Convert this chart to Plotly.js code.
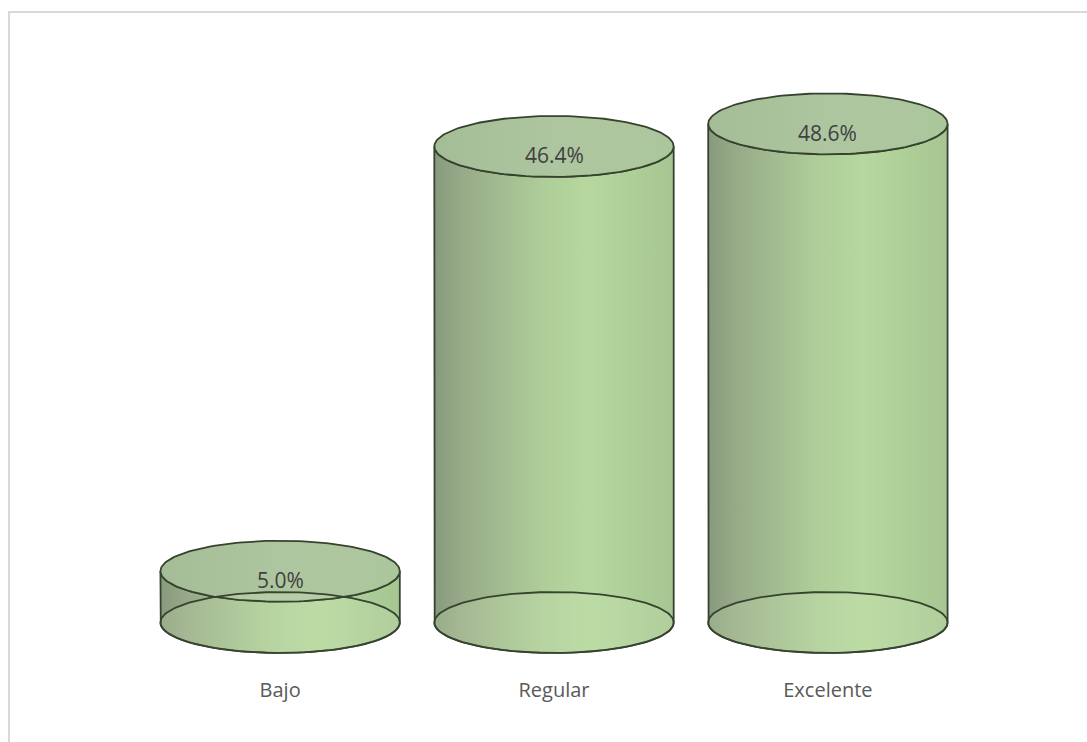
<!DOCTYPE html>
<html>
<head>
<meta charset="utf-8">
<script src="https://cdn.plot.ly/plotly-3.0.1.min.js"></script>
<style>
  html, body { margin: 0; padding: 0; background: #ffffff; }
  #wrap { position: relative; width: 1087px; height: 742px; overflow: hidden; }
  #chart { position: absolute; left: 0; top: 0; width: 1087px; height: 742px; }
  #frame { position: absolute; left: 8px; top: 11px; width: 1200px; height: 800px;
           border-left: 2px solid #d9d9d9; border-top: 2px solid #d9d9d9; pointer-events: none; }
</style>
</head>
<body>
<div id="wrap">
  <div id="chart"></div>
  <div id="frame"></div>
</div>
<script>
// ---- data ----
const categories = ['Bajo', 'Regular', 'Excelente'];
const values = [5.0, 46.4, 48.6];

// ---- styling / geometry (in axis units) ----
const halfWidth = 0.437;   // cylinder half width in x units
const rimRadius = 2.97;    // ellipse vertical radius in y units
const edgeColor = '#36432e';
const edgeWidth = 1.8;

function arc(cx, cy, a, b, t0, t1, n) {
  const xs = [], ys = [];
  for (let k = 0; k <= n; k++) {
    const t = t0 + (t1 - t0) * k / n;
    xs.push(cx + a * Math.cos(t));
    ys.push(cy + b * Math.sin(t));
  }
  return [xs, ys];
}

const traces = [];
categories.forEach((cat, i) => {
  const v = values[i];
  const a = halfWidth, b = rimRadius;
  // body: left side, bottom front arc, right side, top front arc back
  const bx = [], by = [];
  bx.push(i - a); by.push(v);
  bx.push(i - a); by.push(0);
  let [ax, ay] = arc(i, 0, a, b, Math.PI, 2 * Math.PI, 80);
  bx.push(...ax); by.push(...ay);
  bx.push(i + a); by.push(v);
  [ax, ay] = arc(i, v, a, b, 2 * Math.PI, Math.PI, 80);
  bx.push(...ax); by.push(...ay);
  traces.push({
    type: 'scatter', mode: 'lines', x: bx, y: by, fill: 'toself',
    fillgradient: { type: 'horizontal',
      colorscale: [[0, '#889a7d'], [0.12, '#97ab88'], [0.45, '#aecd98'], [0.65, '#b6d89e'], [1, '#a6c592']] },
    line: { color: edgeColor, width: edgeWidth },
    hoverinfo: 'skip', showlegend: false
  });
  // top ellipse fill
  const [tx, ty] = arc(i, v, a, b, 0, 2 * Math.PI, 160);
  traces.push({
    type: 'scatter', mode: 'lines', x: tx, y: ty, fill: 'toself',
    fillgradient: { type: 'horizontal',
      colorscale: [[0, 'rgba(158,184,142,0.93)'], [0.5, 'rgba(168,194,152,0.93)'], [1, 'rgba(166,194,149,0.93)']] },
    line: { width: 0 },
    hoverinfo: 'skip', showlegend: false
  });
  // bottom ellipse (seen through)
  const [ex, ey] = arc(i, 0, a, b, 0, 2 * Math.PI, 160);
  traces.push({
    type: 'scatter', mode: 'lines', x: ex, y: ey, fill: 'toself',
    fillcolor: 'rgba(215,238,190,0.22)',
    line: { color: edgeColor, width: edgeWidth },
    hoverinfo: 'skip', showlegend: false
  });
  // top ellipse outline
  traces.push({
    type: 'scatter', mode: 'lines', x: tx, y: ty,
    line: { color: edgeColor, width: edgeWidth },
    hoverinfo: 'skip', showlegend: false
  });
});

// value labels
const annotations = values.map((v, i) => ({
  x: i, y: v, xref: 'x', yref: 'y', text: v.toFixed(1) + '%',
  showarrow: false, yshift: -9,
  font: { family: 'Open Sans, Noto Sans, sans-serif', size: 21, color: '#404040' }
}));

// pixel layout: y=0 at 622.5px, 10.26 px per unit; x=0 at 280px, 274 px per unit
const H = 742, W = 1087;
const topPx = 60, botPx = 676, y0Px = 622.5, ppuY = 10.26;
const yMin = -(botPx - y0Px) / ppuY, yMax = (y0Px - topPx) / ppuY;
const leftPx = 60.8, rightPx = 1047.2;

const layout = {
  width: W, height: H,
  paper_bgcolor: 'rgba(0,0,0,0)', plot_bgcolor: 'rgba(0,0,0,0)',
  margin: { l: leftPx, r: W - rightPx, t: topPx, b: H - botPx, pad: 0 },
  xaxis: {
    range: [-0.8, 2.8], tickmode: 'array', tickvals: categories.map((c, i) => i), ticktext: categories,
    showgrid: false, zeroline: false, showline: false, ticks: '',
    tickfont: { family: 'Open Sans, Noto Sans, sans-serif', size: 20, color: '#595959' },
    fixedrange: true
  },
  yaxis: { range: [yMin, yMax], visible: false, fixedrange: true },
  annotations: annotations,
  showlegend: false
};

Plotly.newPlot('chart', traces, layout, { displayModeBar: false, staticPlot: true });
</script>
</body>
</html>
